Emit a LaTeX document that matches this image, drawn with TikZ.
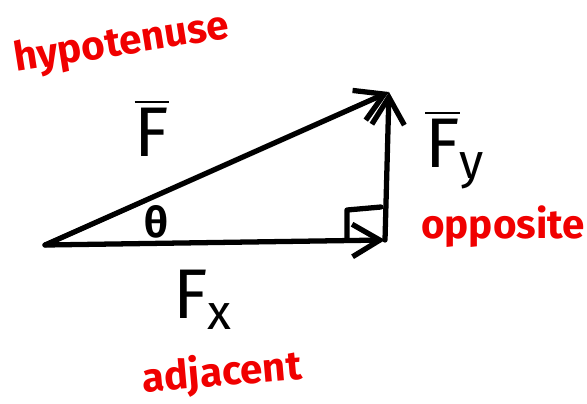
\documentclass[tikz,border=0pt]{standalone}
\usepackage{amsmath}
\usepackage{fontspec}
\setmainfont{Fira Sans}
\usetikzlibrary{arrows.meta,positioning,calc}
\definecolor{ink}{HTML}{000000}
\definecolor{note}{HTML}{F00000}

\begin{document}
\begin{tikzpicture}[
  x=0.02cm, y=-0.02cm,
  vec/.style={draw=ink, line width=3pt, line cap=round, line join=round,
              -{Straight Barb[length=5.5mm, width=6.5mm, line width=3pt]}},
  rightmark/.style={draw=ink, line width=3pt, line cap=round, line join=round},
  sym/.style={text=ink, inner sep=0pt, font=\fontsize{40}{44}\selectfont},
  note/.style={text=note, inner sep=0pt, font=\fontsize{23}{25}\selectfont\bfseries}
]
\useasboundingbox (0,0) rectangle (587,403);

% ---- triangle corners
\coordinate (tail) at (45,245);
\coordinate (foot) at (385,240);
\coordinate (tip) at (389,92);

% ---- vectors
\draw[vec] (tail) -- (foot);
\draw[vec] (foot) -- (tip);
\draw[vec] (tail) -- (tip);
\draw[rightmark] ($(foot)+(-38,-2)$) -- ++(0,-28) -- ++(34,-3);

% ---- symbols
\node[sym] (force) at (152,128) {$\overline{\mbox{F}}$};
\node[sym, font=\fontsize{24}{26}\selectfont\bfseries] (theta) at (156,222) {θ};
\node[sym] (forcey) at (455,150) {$\overline{\mbox{F}}_{\text{y}}$};
\node[sym] (forcex) at (203,300) {F$_{\text{x}}$};

% ---- red notes
\node[note, rotate=9] (hyp) at (122,44) {hypotenuse};
\node[note] (opp) at (503,227) {opposite};
\node[note, rotate=5] (adj) at (222,374) {adjacent};
\end{tikzpicture}
\end{document}
